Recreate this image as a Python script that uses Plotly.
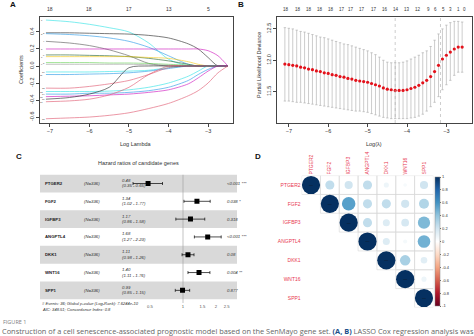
import math
import plotly.graph_objects as go

W, H = 474, 336


def fx(p):
    return p / W


def fy(p):
    return 1 - p / H


FONT = "Liberation Sans"
AX = "#444444"

# ---------------- Panel A: LASSO coefficient paths ----------------
PATH_LOGLAMBDA = [-7.1, -6.5, -6.0, -5.5, -5.0, -4.5, -4.0, -3.5, -3.25, -3.0, -2.75, -2.5]
PATH_COEFS = [
    [0.54, 0.52, 0.49, 0.45, 0.40, 0.27, 0.08, 0, 0, 0, 0, 0],
    [0.39, 0.39, 0.385, 0.38, 0.375, 0.36, 0.33, 0.26, 0.20, 0.10, 0.0, 0],
    [0.38, 0.37, 0.355, 0.33, 0.29, 0.22, 0.12, 0.02, 0, 0, 0, 0],
    [0.29, 0.27, 0.24, 0.19, 0.12, 0.03, 0, 0, 0, 0, 0, 0],
    [0.20, 0.20, 0.20, 0.20, 0.20, 0.20, 0.20, 0.20, 0.20, 0.18, 0.12, 0.0],
    [0.13, 0.13, 0.125, 0.12, 0.11, 0.09, 0.06, 0.02, 0, 0, 0, 0],
    [0.11, 0.11, 0.11, 0.11, 0.11, 0.10, 0.09, 0.05, 0.02, 0, 0, 0],
    [0.04, 0.04, 0.04, 0.035, 0.035, 0.03, 0.02, 0.01, 0, 0, 0, 0],
    [0.02, 0.02, 0.02, 0.02, 0.02, 0.015, 0.01, 0, 0, 0, 0, 0],
    [-0.07, -0.07, -0.07, -0.065, -0.06, -0.05, -0.02, 0, 0, 0, 0, 0],
    [-0.10, -0.10, -0.095, -0.09, -0.08, -0.06, -0.03, 0, 0, 0, 0, 0],
    [-0.26, -0.26, -0.24, -0.21, -0.17, -0.10, -0.02, 0, 0, 0, 0, 0],
    [-0.30, -0.30, -0.30, -0.295, -0.28, -0.25, -0.20, -0.12, -0.06, 0, 0, 0],
    [-0.33, -0.33, -0.32, -0.32, -0.31, -0.29, -0.25, -0.17, -0.10, -0.04, 0, 0],
    [-0.36, -0.355, -0.35, -0.34, -0.33, -0.31, -0.28, -0.21, -0.14, -0.06, 0, 0],
    [-0.39, -0.37, -0.33, -0.25, -0.02, 0, 0, 0, 0, 0, 0, 0],
    [-0.42, -0.41, -0.39, -0.34, -0.25, -0.10, 0, 0, 0, 0, 0, 0],
    [-0.62, -0.61, -0.60, -0.58, -0.55, -0.50, -0.44, -0.35, -0.29, -0.20, -0.08, 0],
]
PATH_COLORS = [
    "#28E2E5", "#222222", "#2297E6", "#555555", "#CD0BBC", "#1f5f2a",
    "#F5C710", "#61D04F", "#9E9E9E", "#28E2E5", "#2297E6", "#DF536B",
    "#28E2E5", "#2297E6", "#CD0BBC", "#222222", "#DF536B", "#DF536B",
]
A_TOP_AT = [-7, -6, -5, -4, -3]
A_TOP_DF = ["18", "18", "17", "13", "5"]

# ---------------- Panel B: cross-validation curve ----------------
CV_LOGLAMBDA = [
    -7.1, -7.0, -6.9, -6.8, -6.7, -6.6, -6.5, -6.4, -6.3, -6.2, -6.1, -6.0,
    -5.9, -5.8, -5.7, -5.6, -5.5, -5.4, -5.3, -5.2, -5.1, -5.0, -4.9, -4.8,
    -4.7, -4.6, -4.5, -4.4, -4.3, -4.2, -4.1, -4.0, -3.9, -3.8, -3.7, -3.6,
    -3.5, -3.4, -3.3, -3.2, -3.1, -3.0, -2.9, -2.8, -2.7, -2.6,
]
CV_MEAN = [
    11.94, 11.93, 11.92, 11.91, 11.89, 11.88, 11.86, 11.85, 11.83, 11.82, 11.80, 11.79,
    11.77, 11.76, 11.74, 11.73, 11.71, 11.70, 11.68, 11.67, 11.66, 11.65, 11.63, 11.61,
    11.59, 11.56, 11.54, 11.53, 11.52, 11.52, 11.52, 11.53, 11.55, 11.57, 11.60, 11.64,
    11.68, 11.74, 11.82, 11.92, 12.02, 12.08, 12.13, 12.18, 12.21, 12.21,
]
CV_UPPER = [
    12.52, 12.51, 12.50, 12.48, 12.46, 12.45, 12.43, 12.41, 12.39, 12.37, 12.36, 12.34,
    12.32, 12.30, 12.28, 12.26, 12.25, 12.23, 12.21, 12.19, 12.17, 12.15, 12.12, 12.09,
    12.05, 12.00, 11.97, 11.96, 11.96, 11.96, 11.97, 11.99, 12.02, 12.05, 12.08, 12.12,
    12.15, 12.22, 12.32, 12.42, 12.50, 12.56, 12.60, 12.62, 12.62, 12.61,
]
CV_LOWER = [
    11.35, 11.35, 11.34, 11.33, 11.33, 11.32, 11.31, 11.30, 11.29, 11.28, 11.27, 11.26,
    11.25, 11.24, 11.23, 11.22, 11.21, 11.20, 11.19, 11.19, 11.18, 11.17, 11.15, 11.13,
    11.11, 11.09, 11.08, 11.07, 11.07, 11.07, 11.07, 11.07, 11.08, 11.09, 11.11, 11.14,
    11.19, 11.26, 11.33, 11.42, 11.53, 11.61, 11.68, 11.76, 11.81, 11.81,
]
LAMBDA_MIN_LOG = -4.3
LAMBDA_1SE_LOG = -3.15
B_TOP_AT = [-7.08, -6.77, -6.49, -6.22, -5.94, -5.66, -5.41, -5.13, -4.85, -4.57,
            -4.29, -4.01, -3.71, -3.46, -3.28, -3.08, -2.90, -2.70, -2.54]
B_TOP_DF = ["18", "18", "18", "18", "18", "17", "17", "17", "17", "16",
            "14", "13", "12", "9", "6", "5", "3", "1", "0"]

# ---------------- Panel C: multivariate Cox forest ----------------
FOREST_GENES = ["PTGER2", "FGF2", "IGFBP3", "ANGPTL4", "DKK1", "WNT16", "SPP1"]
FOREST_N = [336, 336, 336, 336, 336, 336, 336]
HR = [0.48, 1.34, 1.17, 1.68, 1.11, 1.40, 0.99]
HR_LO = [0.35, 1.02, 0.86, 1.27, 0.98, 1.11, 0.85]
HR_HI = [0.65, 1.77, 1.58, 2.23, 1.26, 1.76, 1.15]
P_TEXT = ["&lt;0.001 ***", "0.038 *", "0.318", "&lt;0.001 ***", "0.08", "0.004 **", "0.877"]
HR_TICKS = [0.5, 1, 1.5, 2, 2.5]

# ---------------- Panel D: correlation matrix ----------------
CORR_GENES = ["PTGER2", "FGF2", "IGFBP3", "ANGPTL4", "DKK1", "WNT16", "SPP1"]
CORR = [
    [1.00, 0.25, 0.20, 0.25, 0.08, 0.04, 0.20],
    [0.25, 1.00, 0.55, 0.25, 0.25, 0.20, 0.30],
    [0.20, 0.55, 1.00, 0.25, 0.15, 0.18, 0.45],
    [0.25, 0.25, 0.25, 1.00, 0.15, 0.05, 0.48],
    [0.08, 0.25, 0.15, 0.15, 1.00, 0.33, 0.13],
    [0.04, 0.20, 0.18, 0.05, 0.33, 1.00, 0.08],
    [0.20, 0.30, 0.45, 0.48, 0.13, 0.08, 1.00],
]
CORR_SCALE = ["#67001F", "#B2182B", "#D6604D", "#F4A582", "#FDDBC7", "#FFFFFF",
              "#D1E5F0", "#92C5DE", "#4393C3", "#2166AC", "#053061"]
CBAR_TICKS = [-1, -0.8, -0.6, -0.4, -0.2, 0, 0.2, 0.4, 0.6, 0.8, 1]

fig = go.Figure()

# A: coefficient paths
for coefs, col in zip(PATH_COEFS, PATH_COLORS):
    fig.add_trace(go.Scatter(
        x=PATH_LOGLAMBDA, y=coefs, mode="lines", xaxis="x", yaxis="y",
        line=dict(color=col, width=0.7, shape="spline", smoothing=0.8),
        opacity=0.85, showlegend=False, hoverinfo="skip"))

# B: cross-validated deviance with error bars
fig.add_trace(go.Scatter(
    x=CV_LOGLAMBDA, y=CV_MEAN, mode="markers", xaxis="x2", yaxis="y2",
    marker=dict(color="#E3121B", size=3.2, line=dict(width=0)),
    error_y=dict(type="data", symmetric=False,
                 array=[u - m for u, m in zip(CV_UPPER, CV_MEAN)],
                 arrayminus=[m - lo for m, lo in zip(CV_MEAN, CV_LOWER)],
                 color="#aaaaaa", thickness=0.6, width=1.2),
    showlegend=False, hoverinfo="skip"))

# C: hazard ratios
rows = list(range(1, len(FOREST_GENES) + 1))
fig.add_trace(go.Scatter(
    x=HR, y=rows, mode="markers", xaxis="x3", yaxis="y3",
    marker=dict(symbol="square", color="black", size=5),
    error_x=dict(type="data", symmetric=False,
                 array=[h - v for h, v in zip(HR_HI, HR)],
                 arrayminus=[v - lo for v, lo in zip(HR, HR_LO)],
                 color="black", thickness=0.7, width=1.5),
    showlegend=False, hoverinfo="skip"))

# D: correlation circles (upper triangle)
cx, cy, cval, csize = [], [], [], []
for i in range(len(CORR_GENES)):
    for j in range(i, len(CORR_GENES)):
        cx.append(j + 1)
        cy.append(i + 1)
        cval.append(CORR[i][j])
        csize.append(18.2 * math.sqrt(abs(CORR[i][j])))
fig.add_trace(go.Scatter(
    x=cx, y=cy, mode="markers", xaxis="x4", yaxis="y4",
    marker=dict(size=csize, color=cval, cmin=-1, cmax=1,
                colorscale=[[k / 10, c] for k, c in enumerate(CORR_SCALE)],
                line=dict(width=0), opacity=1,
                colorbar=dict(x=fx(435), xanchor="left", y=fy(241.5), yanchor="middle",
                              len=129, lenmode="pixels", thickness=4.5,
                              thicknessmode="pixels", xpad=0, ypad=0,
                              outlinewidth=0.5, outlinecolor="#888888",
                              tickvals=CBAR_TICKS,
                              ticktext=[("%g" % t) for t in CBAR_TICKS],
                              ticks="outside", ticklen=1.5, tickwidth=0.5,
                              tickcolor="#666666",
                              tickfont=dict(size=4, color="#333333", family=FONT))),
    showlegend=False, hoverinfo="skip"))
diag = list(range(1, len(CORR_GENES) + 1))
fig.add_trace(go.Scatter(
    x=diag, y=diag, mode="text", xaxis="x4", yaxis="y4",
    text=["—"] * len(diag), textfont=dict(size=4, color="#111111", family=FONT),
    showlegend=False, hoverinfo="skip"))

shapes = []
annotations = []

# grid for upper triangle cells
for i in range(len(CORR_GENES)):
    for j in range(i, len(CORR_GENES)):
        shapes.append(dict(type="rect", xref="x4", yref="y4",
                           x0=j + 0.5, x1=j + 1.5, y0=i + 0.5, y1=i + 1.5,
                           line=dict(color="#d6d6d6", width=0.6), layer="below"))

# forest bands and reference line
for r in rows:
    if r % 2 == 1:
        shapes.append(dict(type="rect", xref="x3 domain", yref="y3",
                           x0=0, x1=1, y0=r - 0.5, y1=r + 0.5,
                           fillcolor="#d9d9d9", line=dict(width=0), layer="below"))
shapes.append(dict(type="line", xref="x3", yref="y3", x0=1, x1=1, y0=0.5, y1=7.71,
                   line=dict(color="#9a9a9a", width=0.6), layer="below"))

# lambda lines in B
for xv in (LAMBDA_MIN_LOG, LAMBDA_1SE_LOG):
    shapes.append(dict(type="line", xref="x2", yref="y2 domain", x0=xv, x1=xv, y0=0, y1=1,
                       line=dict(color="#aaaaaa", width=0.6, dash="dot")))


def txt(x, y, s, size, color="#333333", xanchor="center", yanchor="middle",
        xref="paper", yref="paper", angle=0, family=FONT):
    annotations.append(dict(x=x, y=y, text=s, xref=xref, yref=yref, showarrow=False,
                            xanchor=xanchor, yanchor=yanchor, textangle=angle,
                            font=dict(size=size, color=color, family=family)))


# panel letters
txt(fx(13), fy(5), "<b>A</b>", 8, "#111111")
txt(fx(241), fy(5), "<b>B</b>", 8, "#111111")
txt(fx(19), fy(156), "<b>C</b>", 8, "#111111")
txt(fx(258), fy(156), "<b>D</b>", 8, "#111111")

# A/B top df labels and axis titles
for xv, s in zip(A_TOP_AT, A_TOP_DF):
    txt(xv, fy(9), s, 5, xref="x")
for xv, s in zip(B_TOP_AT, B_TOP_DF):
    txt(xv, fy(9), s, 4.5, xref="x2")
txt(fx(21), fy(70), "Coefficients", 5.5, angle=-90)
txt(fx(136), fy(144), "Log Lambda", 5.5)
txt(fx(259), fy(65), "Partial Likelihood Deviance", 5.5, angle=-90)
txt(fx(374), fy(144), "Log(λ)", 5.5)

# variable labels at the left end of the paths (alternating columns to stay legible)
for k, coefs in enumerate(PATH_COEFS):
    xl = -7.20 if k % 2 == 0 else -7.15
    txt(xl, coefs[0], str(k + 1), 2.3, "#333333", xref="x", yref="y")

# C texts
txt(fx(138), fy(163), "Hazard ratios of candidate genes", 5.5, "#333333")
for r, g, n, h, lo, hi, p in zip(rows, FOREST_GENES, FOREST_N, HR, HR_LO, HR_HI, P_TEXT):
    txt(fx(43), r, "<b>%s</b>" % g, 4.3, "#222222", xanchor="left", yref="y3")
    txt(fx(82), r, "<i>(N=%d)</i>" % n, 4.3, "#333333", xanchor="left", yref="y3")
    annotations.append(dict(x=fx(120), y=r, xref="paper", yref="y3", showarrow=False,
                            text="<i>%.2f</i>" % h, yshift=3,
                            font=dict(size=4.3, color="#333333", family=FONT)))
    annotations.append(dict(x=fx(120), y=r, xref="paper", yref="y3", showarrow=False,
                            text="<i>(%.2f - %.2f)</i>" % (lo, hi), yshift=-2.5,
                            font=dict(size=4.3, color="#333333", family=FONT)))
    txt(fx(225), r, "<i>%s</i>" % p, 4.3, "#333333", xanchor="left", yref="y3")
txt(fx(40), fy(303), "<i># Events: 36; Global p-value (Log-Rank): 7.6244e-10</i>", 4.1,
    "#333333", xanchor="left")
txt(fx(40), fy(309), "<i>AIC: 348.51; Concordance Index: 0.8</i>", 4.1,
    "#333333", xanchor="left")

# caption
txt(fx(1), fy(322), "FIGURE 1", 5.5, "#808080", xanchor="left", family="Open Sans")
txt(fx(0), fy(331),
    "Construction of a cell senescence-associated prognostic model based on the SenMayo "
    "gene set. <b><span style='color:#1d4e89'>(A, B)</span></b> LASSO Cox regression analysis was",
    7.4, "#666666", xanchor="left", family="Open Sans")

tick_common = dict(ticks="outside", ticklen=3, tickwidth=0.6, tickcolor=AX,
                   showline=True, mirror=True, linecolor=AX, linewidth=0.7,
                   showgrid=False, zeroline=False,
                   tickfont=dict(size=5.5, color="#333333", family=FONT))

fig.update_layout(
    width=W, height=H, autosize=False,
    margin=dict(l=0, r=0, t=0, b=0, pad=0),
    paper_bgcolor="white", plot_bgcolor="white",
    showlegend=False,
    xaxis=dict(domain=[fx(40), fx(233)], range=[-7.25, -2.37], anchor="y",
               tickvals=[-7, -6, -5, -4, -3], **tick_common),
    yaxis=dict(domain=[fy(123), fy(17)], range=[-0.67, 0.576], anchor="x",
               tickvals=[-0.6, -0.4, -0.2, 0, 0.2, 0.4],
               ticktext=["-0.6", "-0.4", "-0.2", "0.0", "0.2", "0.4"],
               tickangle=-90, **tick_common),
    xaxis2=dict(domain=[fx(277), fx(472)], range=[-7.3, -2.35], anchor="y2",
                tickvals=[-7, -6, -5, -4, -3], **tick_common),
    yaxis2=dict(domain=[fy(123), fy(17)], range=[11.0, 12.69], anchor="x2",
                tickvals=[11.5, 12.0, 12.5], ticktext=["11.5", "12.0", "12.5"],
                tickangle=-90, **tick_common),
    xaxis3=dict(domain=[fx(40), fx(237)], type="log", range=[-1.305, 0.4927],
                anchor="y3", tickvals=HR_TICKS, ticktext=[("%g" % t) for t in HR_TICKS],
                ticks="", showline=False, showgrid=False, zeroline=False,
                tickfont=dict(size=4.2, color="#555555", family=FONT)),
    yaxis3=dict(domain=[fy(303), fy(174.6)], range=[7.71, 0.5], anchor="x3",
                visible=False),
    xaxis4=dict(domain=[fx(301.6), fx(433.4)], range=[0.5, 7.5], anchor="y4",
                side="top", tickvals=diag, ticktext=CORR_GENES, tickangle=-90,
                ticks="", showline=False, showgrid=False, zeroline=False,
                tickfont=dict(size=5, color="#e8384f", family=FONT)),
    yaxis4=dict(domain=[fy(307.4), fy(175.6)], range=[7.5, 0.5], anchor="x4",
                tickvals=diag, ticktext=CORR_GENES,
                ticks="", showline=False, showgrid=False, zeroline=False,
                tickfont=dict(size=5, color="#e8384f", family=FONT)),
    shapes=shapes,
    annotations=annotations,
)

fig.write_html("out.html")
